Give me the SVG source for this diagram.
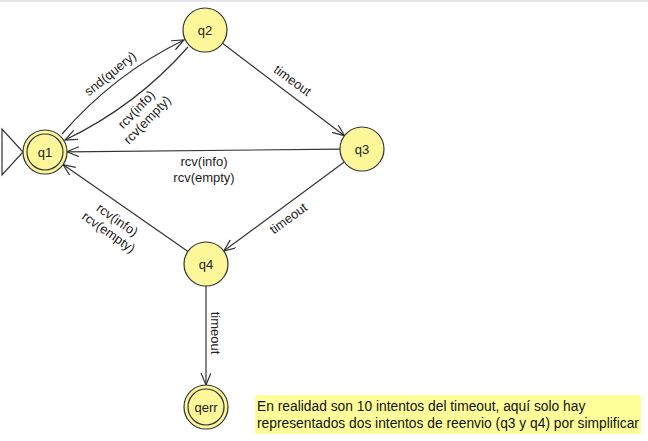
<svg xmlns="http://www.w3.org/2000/svg" width="648" height="441" viewBox="0 0 648 441">
<defs>
<style>
.st{fill:#fdf79a;stroke:#333;stroke-width:1.2}
.lbl{font-family:"Liberation Sans",Arial,sans-serif;font-size:13px;fill:#222}
.nl{text-anchor:middle}
.edge{fill:none;stroke:#333;stroke-width:1.2}
.note{font-family:"Liberation Sans",Arial,sans-serif;font-size:13.8px;fill:#111}
</style>
<marker id="arr" markerUnits="userSpaceOnUse" markerWidth="14" markerHeight="12" refX="12" refY="5" orient="auto">
<path d="M0,0 L12,5 L0,10" fill="none" stroke="#333" stroke-width="1.2"/>
</marker>
</defs>
<rect width="648" height="441" fill="#fff"/>
<line x1="0" y1="1" x2="648" y2="1" stroke="#e4e6ea" stroke-width="2"/>
<g id="connectors">
<path class="edge" d="M62,134 Q114,74 184,40" marker-end="url(#arr)"/>
<path class="edge" d="M188,47 Q136,106 65,140" marker-end="url(#arr)"/>
<path class="edge" d="M222.5,43.3 L344.5,135.7" marker-end="url(#arr)"/>
<path class="edge" d="M340,149.2 L67,151.8" marker-end="url(#arr)"/>
<path class="edge" d="M344.3,162 L223.7,251" marker-end="url(#arr)"/>
<path class="edge" d="M188,251.4 L63,164.6" marker-end="url(#arr)"/>
<path class="edge" d="M206,286 L206,385" marker-end="url(#arr)"/>
<text class="lbl nl" transform="translate(113,77) rotate(-39)">snd(query)</text>
<g transform="translate(141,114) rotate(-46)">
<text class="lbl nl" x="0" y="-2">rcv(info)</text>
<text class="lbl nl" x="0" y="13">rcv(empty)</text>
</g>
<text class="lbl nl" transform="translate(290,84) rotate(36)">timeout</text>
<text class="lbl nl" x="204" y="166">rcv(info)</text>
<text class="lbl nl" x="204" y="182">rcv(empty)</text>
<text class="lbl nl" transform="translate(291,222) rotate(-36)">timeout</text>
<g transform="translate(113,226) rotate(35)">
<text class="lbl nl" x="0" y="-3">rcv(info)</text>
<text class="lbl nl" x="0" y="12">rcv(empty)</text>
</g>
<text class="lbl nl" transform="translate(211,333) rotate(90)">timeout</text>
</g>
<g id="start">
<polygon points="2,129 2,175 23,152" fill="#fff" stroke="#333" stroke-width="1.2"/>
</g>
<g id="q1">
<circle class="st" cx="45" cy="152" r="22"/>
<circle class="st" cx="45" cy="152" r="18"/>
<text class="lbl nl" x="45" y="157">q1</text>
</g>
<g id="q2">
<circle class="st" cx="205" cy="30" r="22"/>
<text class="lbl nl" x="205" y="35">q2</text>
</g>
<g id="q3">
<circle class="st" cx="362" cy="149" r="22"/>
<text class="lbl nl" x="362" y="154">q3</text>
</g>
<g id="q4">
<circle class="st" cx="206" cy="264" r="22"/>
<text class="lbl nl" x="206" y="269">q4</text>
</g>
<g id="qerr">
<circle class="st" cx="206" cy="407" r="22"/>
<circle class="st" cx="206" cy="407" r="18"/>
<text class="lbl nl" x="206" y="412">qerr</text>
</g>
<g id="note">
<rect x="255" y="395" width="386" height="39" fill="#ffff99"/>
<text class="note" x="257" y="411">En realidad son 10 intentos del timeout, aquí solo hay</text>
<text class="note" x="257" y="428">representados dos intentos de reenvio (q3 y q4) por simplificar</text>
</g>
</svg>
